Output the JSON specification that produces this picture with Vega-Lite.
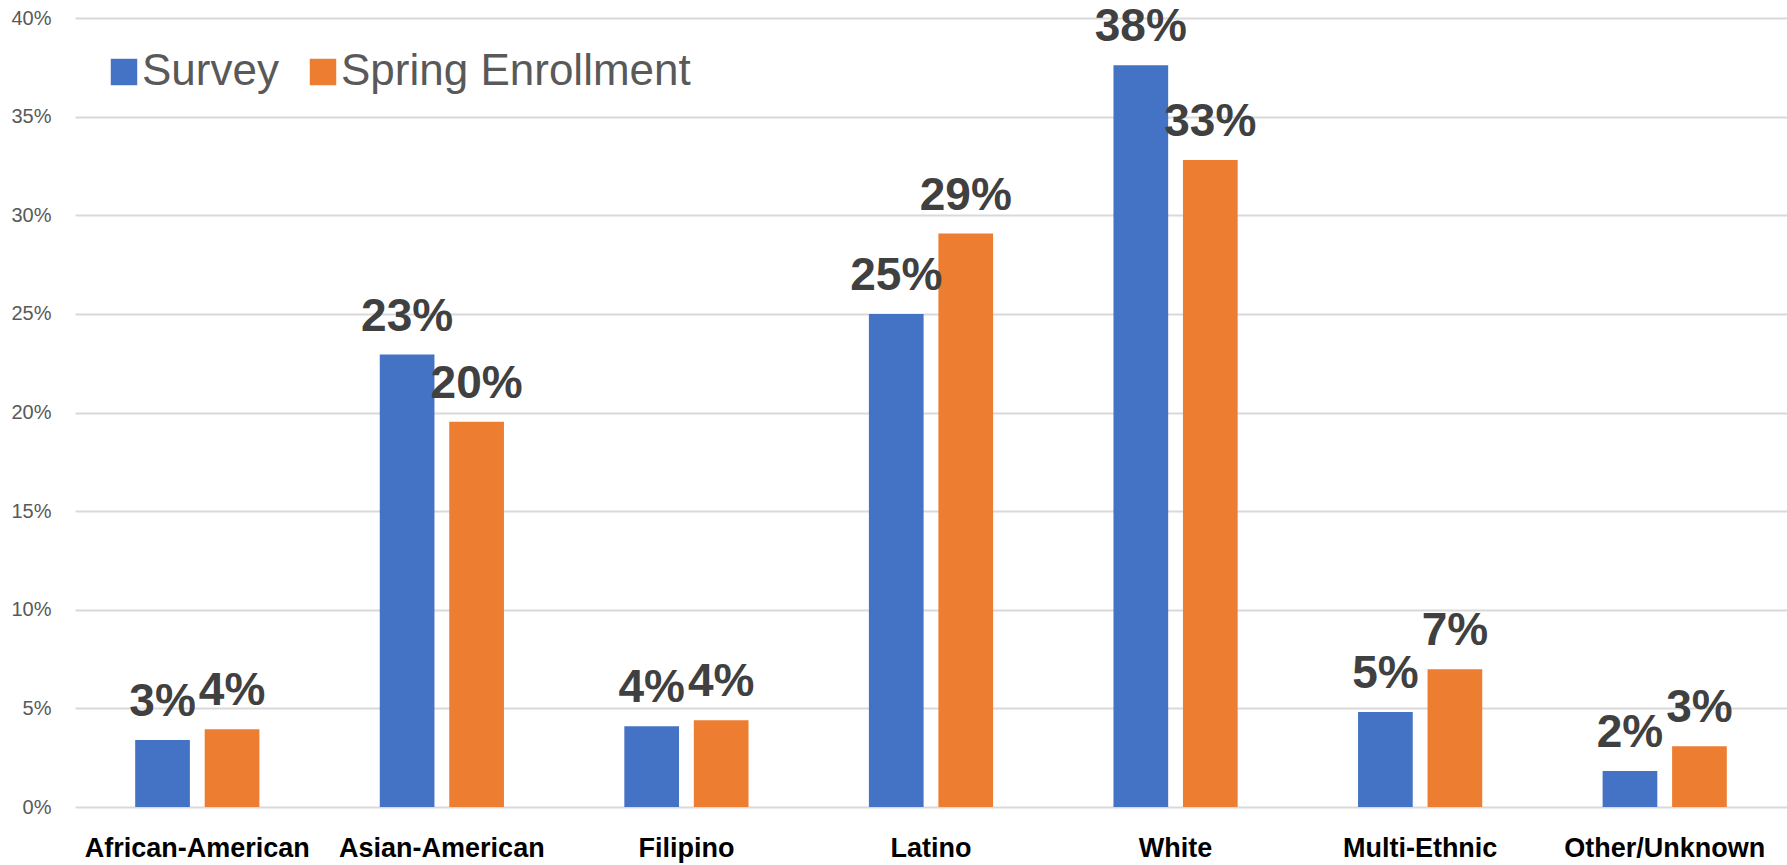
{
  "$schema": "https://vega.github.io/schema/vega-lite/v6.json",
  "width": 1712,
  "height": 789,
  "autosize": {"type": "none"},
  "padding": {"left": 75, "top": 18, "right": 0, "bottom": 58},
  "background": "white",
  "config": {"view": {"stroke": null}, "font": "Liberation Sans"},
  "data": {
    "values": [
      {"group": "African-American", "series": "Survey", "value": 0.034},
      {"group": "African-American", "series": "Spring Enrollment", "value": 0.0394},
      {"group": "Asian-American", "series": "Survey", "value": 0.2294},
      {"group": "Asian-American", "series": "Spring Enrollment", "value": 0.1953},
      {"group": "Filipino", "series": "Survey", "value": 0.041},
      {"group": "Filipino", "series": "Spring Enrollment", "value": 0.044},
      {"group": "Latino", "series": "Survey", "value": 0.25},
      {"group": "Latino", "series": "Spring Enrollment", "value": 0.2907},
      {"group": "White", "series": "Survey", "value": 0.376},
      {"group": "White", "series": "Spring Enrollment", "value": 0.328},
      {"group": "Multi-Ethnic", "series": "Survey", "value": 0.0482},
      {"group": "Multi-Ethnic", "series": "Spring Enrollment", "value": 0.0698},
      {"group": "Other/Unknown", "series": "Survey", "value": 0.0183},
      {"group": "Other/Unknown", "series": "Spring Enrollment", "value": 0.0308}
    ]
  },
  "encoding": {
    "x": {
      "field": "group", "type": "nominal", "sort": null,
      "scale": {"paddingInner": 0, "paddingOuter": 0},
      "axis": {
        "title": null, "labelAngle": 0, "labelFontSize": 27, "labelFontWeight": "bold",
        "labelColor": "#000000", "labelPadding": 28, "labelLimit": 0, "domain": false, "ticks": false
      }
    },
    "xOffset": {
      "field": "series", "type": "nominal", "sort": ["Survey", "Spring Enrollment"],
      "scale": {"paddingInner": 0.213, "paddingOuter": 0.866}
    },
    "y": {
      "field": "value", "type": "quantitative",
      "scale": {"domain": [0, 0.4], "nice": false},
      "axis": {
        "title": null, "format": ".0%", "values": [0, 0.05, 0.1, 0.15, 0.2, 0.25, 0.3, 0.35, 0.4],
        "labelFontSize": 20, "labelColor": "#595959", "labelPadding": 24,
        "domain": false, "ticks": false, "gridColor": "#d9d9d9", "gridWidth": 2
      }
    }
  },
  "layer": [
    {
      "mark": {"type": "bar"},
      "encoding": {
        "color": {
          "field": "series", "type": "nominal",
          "scale": {"domain": ["Survey", "Spring Enrollment"], "range": ["#4472C4", "#ED7D31"]},
          "legend": {
            "title": null, "orient": "none", "direction": "horizontal",
            "legendX": 27, "legendY": 32, "symbolType": "square", "symbolSize": 700,
            "symbolStrokeWidth": 0, "labelFontSize": 44, "labelColor": "#595959",
            "labelOffset": -4, "columnPadding": 22, "labelLimit": 0, "labelFont": "Liberation Sans"
          }
        }
      }
    },
    {
      "mark": {"type": "text", "fontSize": 46, "fontWeight": "bold", "color": "#404040", "baseline": "alphabetic", "dy": -24},
      "encoding": {
        "text": {"field": "value", "type": "quantitative", "format": ".0%"}
      }
    }
  ]
}
